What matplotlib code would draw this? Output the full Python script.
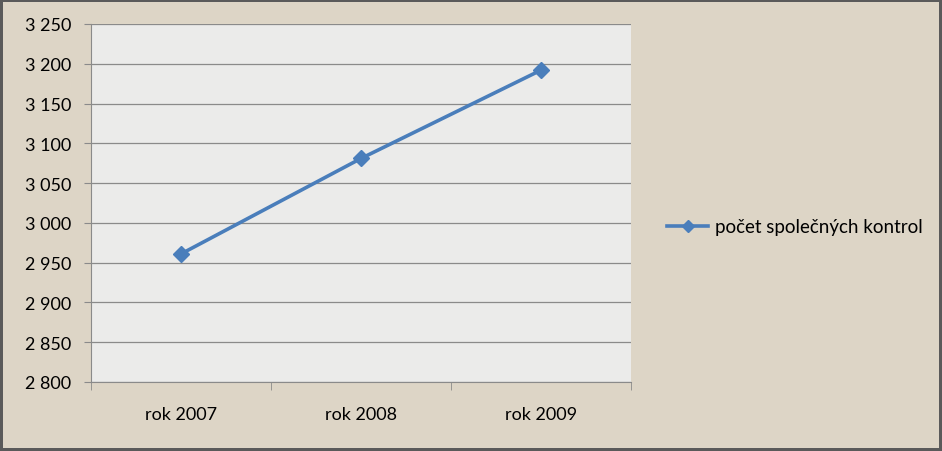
import matplotlib
matplotlib.use("Agg")
import matplotlib.pyplot as plt
from matplotlib.ticker import FuncFormatter, FixedLocator

# data
categories = ["rok 2007", "rok 2008", "rok 2009"]
values = [2961, 3081, 3192]
series_name = "počet společných kontrol"

plt.rcParams['font.family'] = ['Lato', 'DejaVu Sans']

W, H = 942, 452
fig = plt.figure(figsize=(W / 100, H / 100), dpi=100)
fig.patch.set_facecolor("#ddd5c6")
fig.patch.set_edgecolor("#5a5a5a")
fig.patch.set_linewidth(3)

# plot area in pixels: left 91, right 631, top 25, bottom 383
ax = fig.add_axes([91 / W, 1 - 383 / H, (631 - 91) / W, (383 - 25) / H])
ax.set_facecolor("#ebebea")

x = list(range(len(categories)))
line, = ax.plot(x, values, color="#4a7ebb", lw=2.6, marker="D", ms=8,
                markeredgecolor="#4a7ebb", label=series_name, zorder=3)

ax.set_xlim(-0.5, len(categories) - 0.5)
ax.set_ylim(2800, 3250)
ax.set_yticks(range(2800, 3251, 50))
ax.yaxis.set_major_formatter(FuncFormatter(lambda v, p: f"{int(v):,}".replace(",", " ")))
ax.set_xticks(x)
ax.set_xticklabels(categories)
ax.xaxis.set_minor_locator(FixedLocator([i - 0.5 for i in range(len(categories) + 1)]))

ax.grid(axis="y", color="#8a8a8a", lw=0.9)
ax.set_axisbelow(True)
for s in ["top", "right"]:
    ax.spines[s].set_visible(False)
for s in ["left", "bottom"]:
    ax.spines[s].set_color("#8a8a8a")
ax.tick_params(axis="y", length=5, color="#8a8a8a", labelsize=13, pad=9)
ax.tick_params(axis="x", which="major", length=0, labelsize=13, pad=17)
ax.tick_params(axis="x", which="minor", length=6, color="#8a8a8a")

fig.legend(handles=[line], loc="center left", bbox_to_anchor=(650 / W, 1 - 228 / H),
           frameon=False, fontsize=13.5, handlelength=2.2, handletextpad=0.35,
           markerscale=0.8)

fig.savefig("out.png", dpi=100, facecolor=fig.get_facecolor(), edgecolor=fig.get_edgecolor())
